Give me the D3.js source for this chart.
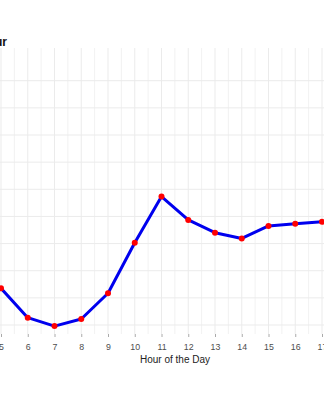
<!DOCTYPE html>
<html>
<head>
<meta charset="utf-8">
<script src="https://cdn.jsdelivr.net/npm/d3@7"></script>
<style>
  body { margin: 0; background: #fff; }
  svg { display: block; font-family: "Liberation Sans", Arial, sans-serif; }
</style>
</head>
<body>
<script>
// values
var hours = [5, 6, 7, 8, 9, 10, 11, 12, 13, 14, 15, 16, 17];
var values = [113.5, 102.7, 99.6, 102.2, 111.7, 130.3, 147.3, 138.7, 134.0, 131.9, 136.5, 137.3, 138.0];
var gridHours = d3.range(3.5, 19, 0.5);
var gridValues = d3.range(100, 191, 10);
var xTitle = "Hour of the Day";
var title = "Average Activity by Hour";

var width = 324, height = 400;
var panelTop = 48, panelBottom = 334;

var svg = d3.select("body").append("svg")
    .attr("width", width)
    .attr("height", height);

// scales
var x = d3.scaleLinear().domain([5, 17]).range([1, 322]);
var y = d3.scaleLinear().domain([100, 190]).range([325, 80.7]);

// grid
svg.append("g").selectAll("line")
    .data(gridHours)
  .enter().append("line")
    .attr("x1", function(d) { return x(d); })
    .attr("x2", function(d) { return x(d); })
    .attr("y1", panelTop)
    .attr("y2", panelBottom)
    .attr("stroke", "#ebebeb")
    .attr("stroke-width", function(d) { return d % 1 === 0 ? 1 : 0.7; });

svg.append("g").selectAll("line")
    .data(gridValues)
  .enter().append("line")
    .attr("x1", 0)
    .attr("x2", width)
    .attr("y1", function(d) { return y(d); })
    .attr("y2", function(d) { return y(d); })
    .attr("stroke", "#ebebeb")
    .attr("stroke-width", 1);

// x axis
var xAxis = d3.axisBottom(x)
    .tickValues(d3.range(4, 19))
    .tickSize(3)
    .tickPadding(7)
    .tickFormat(d3.format("d"));

var ax = svg.append("g")
    .attr("transform", "translate(0," + panelBottom + ")")
    .call(xAxis);
ax.select(".domain").remove();
ax.selectAll(".tick line").attr("stroke", "#aaa");
ax.selectAll(".tick text")
    .attr("fill", "#4d4d4d")
    .style("font-size", "8.8px");

svg.append("text")
    .attr("x", 175)
    .attr("y", 363)
    .attr("text-anchor", "middle")
    .attr("fill", "#222")
    .style("font-size", "10px")
    .text(xTitle);

// title (mostly cut off on the left)
svg.append("text")
    .attr("x", 7)
    .attr("y", 46)
    .attr("text-anchor", "end")
    .attr("fill", "#111")
    .style("font-size", "12px")
    .style("font-weight", "bold")
    .text(title);

// line + points
var pts = hours.map(function(h, i) { return [h, values[i]]; });

svg.append("path")
    .datum(pts)
    .attr("fill", "none")
    .attr("stroke", "#0000ee")
    .attr("stroke-width", 3)
    .attr("stroke-linejoin", "round")
    .attr("d", d3.line()
        .x(function(d) { return x(d[0]); })
        .y(function(d) { return y(d[1]); }));

svg.append("g").selectAll("circle")
    .data(pts)
  .enter().append("circle")
    .attr("cx", function(d) { return x(d[0]); })
    .attr("cy", function(d) { return y(d[1]); })
    .attr("r", 3)
    .attr("fill", "#ff0000");
</script>
</body>
</html>
